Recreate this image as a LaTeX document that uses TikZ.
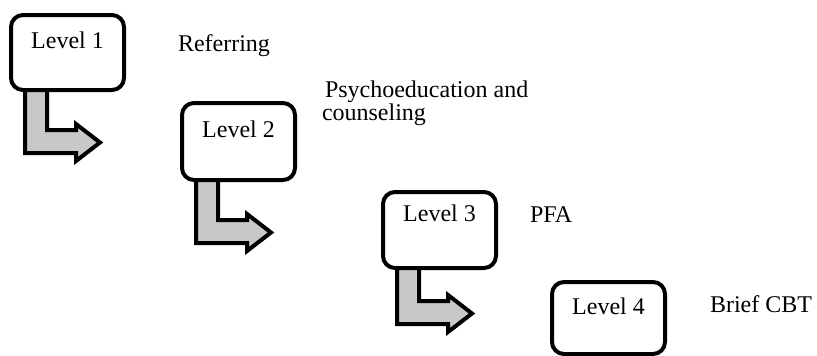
\documentclass[tikz,border=0pt]{standalone}
\usepackage{fontspec}
\setmainfont{Liberation Serif}
\definecolor{arrowgray}{RGB}{200,200,200}
\newcommand\lshapearrow[2]{%
  \begin{scope}[shift={(#1.south west)}]
    \draw[larrow] (14,0) -- (14,#2+23) -- (65,#2+23) -- (65,#2+31) -- (89,#2+12.5)
      -- (65,#2-6) -- (65,#2) -- (36,#2) -- (36,0) -- cycle;
  \end{scope}}
\tikzset{
  txt/.style={font=\fontsize{24}{23}\selectfont, inner sep=0pt, outer sep=0pt},
  levelbox/.style={txt, draw, line width=4pt, rounded corners=12pt, fill=white,
    minimum width=113pt, anchor=north west},
  larrow/.style={draw, line width=4pt, fill=arrowgray, line join=miter, miter limit=10},
  lbl/.style={txt, anchor=base west, align=left}
}
\begin{document}
\begin{tikzpicture}[x=1pt,y=-1pt]
\useasboundingbox (0,0) rectangle (817,356);
\node[levelbox, text height=33pt, text depth=42pt] (b1) at (11,15) {Level 1};
\node[levelbox, text height=34pt, text depth=43pt] (b2) at (182,103) {Level 2};
\node[levelbox, text height=29pt, text depth=47pt] (b3) at (383,192) {Level 3};
\node[levelbox, text height=32pt, text depth=40pt] (b4) at (552,282) {Level 4};
\lshapearrow{b1}{40}
\lshapearrow{b2}{40}
\lshapearrow{b3}{33}
\node[lbl] (l1) at (178,51) {Referring};
\node[lbl] (l2) at (322,120) {\hspace*{3pt}Psychoeducation and\\counseling};
\node[lbl] (l3) at (530,222) {PFA};
\node[lbl] (l4) at (710,312) {Brief CBT};
\end{tikzpicture}
\end{document}
